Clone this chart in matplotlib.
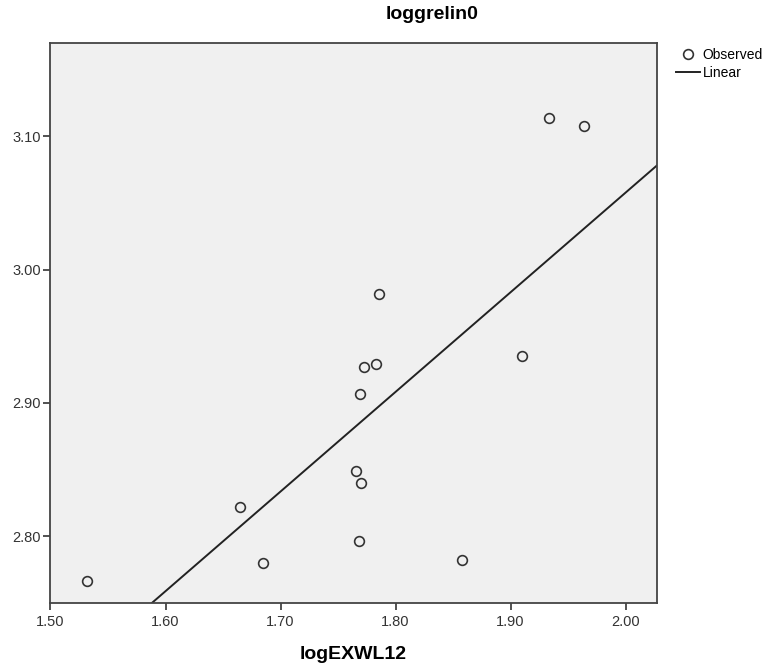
import numpy as np
import matplotlib.pyplot as plt

plt.rcParams['font.family'] = ['Liberation Sans', 'DejaVu Sans']

logEXWL12 = [1.532, 1.665, 1.685, 1.766, 1.770, 1.768, 1.769,
             1.773, 1.783, 1.786, 1.858, 1.910, 1.933, 1.964]
loggrelin0 = [2.766, 2.822, 2.780, 2.849, 2.840, 2.796, 2.907,
              2.927, 2.929, 2.982, 2.782, 2.935, 3.114, 3.108]

xticks = [1.50, 1.60, 1.70, 1.80, 1.90, 2.00]
yticks = [2.80, 2.90, 3.00, 3.10]

fig = plt.figure(figsize=(7.73, 6.66), dpi=100)
ax = fig.add_axes([0.0653, 0.095, 0.7842, 0.8404])
ax.set_facecolor('#f0f0f0')

# linear fit
slope, intercept = np.polyfit(logEXWL12, loggrelin0, 1)
xfit = np.array([1.50, 2.027])
ax.plot(xfit, slope * xfit + intercept, color='#222222', lw=1.4, label='Linear', zorder=2)

ax.plot(logEXWL12, loggrelin0, 'o', ms=7, mfc='none', mec='#333333', mew=1.2,
        label='Observed', zorder=3)

ax.set_xlim(1.50, 2.027)
ax.set_ylim(2.75, 3.17)
ax.set_xticks(xticks)
ax.set_xticklabels(['%.2f' % v for v in xticks])
ax.set_yticks(yticks)
ax.set_yticklabels(['%.2f' % v for v in yticks])
ax.tick_params(direction='out', length=5, width=1.2, colors='#333333',
               labelsize=10.5, pad=2)
ax.tick_params(axis='x', pad=4)
for s in ax.spines.values():
    s.set_color('#444444')
    s.set_linewidth(1.3)

ax.set_xlabel('logEXWL12', fontsize=14, fontweight='bold', labelpad=12)
fig.text(0.559, 0.978, 'loggrelin0', fontsize=14, fontweight='bold',
         ha='center', va='center')

h, l = ax.get_legend_handles_labels()
fig.legend(h[::-1], l[::-1], loc='upper left', bbox_to_anchor=(0.866, 0.938),
           frameon=False, fontsize=10, handlelength=1.7, handletextpad=0.2,
           labelspacing=0.25, borderpad=0)

plt.savefig('out.png', dpi=100)
